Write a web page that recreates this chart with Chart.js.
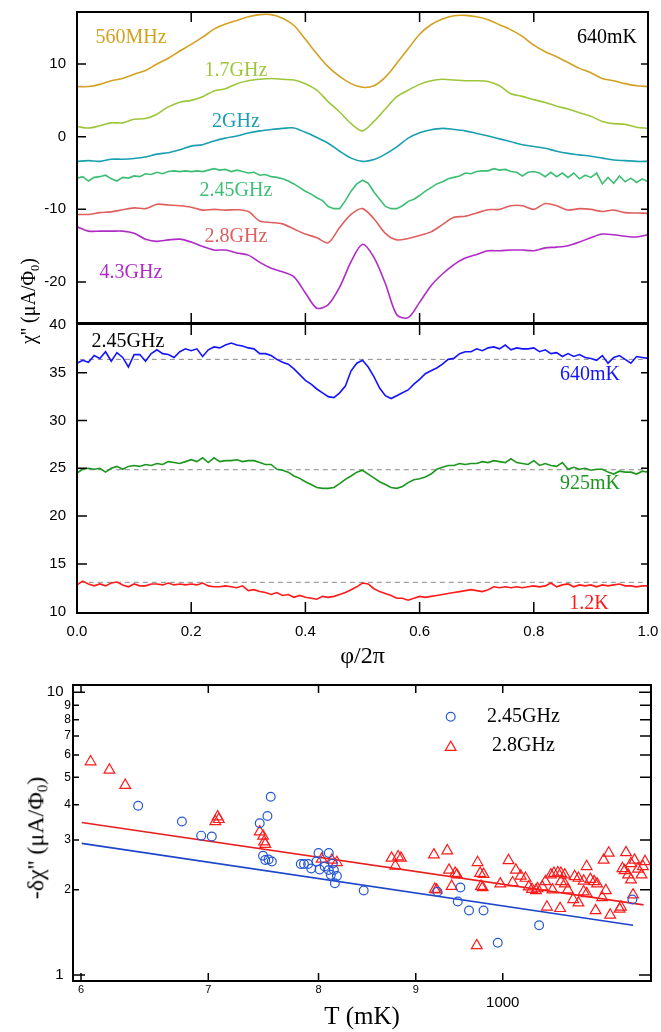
<!DOCTYPE html>
<html><head><meta charset="utf-8">
<script src="https://cdn.jsdelivr.net/npm/chart.js@4/dist/chart.umd.min.js"></script>
<style>
html,body{margin:0;padding:0;background:#fff;}
#wrap{position:relative;width:661px;height:1032px;overflow:hidden;background:#fff;}
#wrap canvas{position:absolute;left:0;top:0;width:661px;height:1032px;}
.note{position:absolute;font-family:"Liberation Serif","Times New Roman",serif;white-space:nowrap;transform:translate(-50%,-50%);line-height:1;}
.ytitle{position:absolute;font-family:"Liberation Serif","Times New Roman",serif;white-space:nowrap;transform:translate(-50%,-50%) rotate(-90deg);line-height:1;color:#000;}
.ytitle .s{font-size:0.62em;vertical-align:-0.3em;}
</style></head>
<body>
<div id="wrap">
<canvas id="cTop" width="661" height="1032"></canvas>
<canvas id="cMid" width="661" height="1032"></canvas>
<canvas id="cBot" width="661" height="1032"></canvas>
</div>
<script>
// ---------------- DATA ----------------
const phi51 = [0,0.02,0.04,0.06,0.08,0.1,0.12,0.14,0.16,0.18,0.2,0.22,0.24,0.26,0.28,0.3,0.32,0.34,0.36,0.38,0.4,0.42,0.44,0.46,0.48,0.5,0.52,0.54,0.56,0.58,0.6,0.62,0.64,0.66,0.68,0.7,0.72,0.74,0.76,0.78,0.8,0.82,0.84,0.86,0.88,0.9,0.92,0.94,0.96,0.98,1];
const phi101 = [0,0.01,0.02,0.03,0.04,0.05,0.06,0.07,0.08,0.09,0.1,0.11,0.12,0.13,0.14,0.15,0.16,0.17,0.18,0.19,0.2,0.21,0.22,0.23,0.24,0.25,0.26,0.27,0.28,0.29,0.3,0.31,0.32,0.33,0.34,0.35,0.36,0.37,0.38,0.39,0.4,0.41,0.42,0.43,0.44,0.45,0.46,0.47,0.48,0.49,0.5,0.51,0.52,0.53,0.54,0.55,0.56,0.57,0.58,0.59,0.6,0.61,0.62,0.63,0.64,0.65,0.66,0.67,0.68,0.69,0.7,0.71,0.72,0.73,0.74,0.75,0.76,0.77,0.78,0.79,0.8,0.81,0.82,0.83,0.84,0.85,0.86,0.87,0.88,0.89,0.9,0.91,0.92,0.93,0.94,0.95,0.96,0.97,0.98,0.99,1];

// top panel (640 mK), chi'' vs phi/2pi, various frequencies
const f560 = [6.9,6.9,7.2,7.7,8.0,8.6,9.1,10.0,10.8,11.8,12.7,13.7,14.8,15.5,16.0,16.5,16.8,16.8,16.3,15.3,13.4,11.4,9.6,8.3,7.3,6.8,7.0,8.2,10.1,12.1,14.1,15.4,16.2,16.65,16.7,16.5,16.1,15.4,14.7,13.8,12.6,11.7,11.0,10.2,9.4,8.8,8.0,7.7,7.3,7.0,6.9];
const f17 = [1.4,1.2,1.5,1.9,1.9,2.4,2.5,3.1,4.1,4.75,5.0,5.5,6.3,6.6,7.3,7.7,7.9,8.0,7.9,7.8,7.3,6.4,4.8,3.4,1.8,0.8,2.1,3.8,5.5,6.4,7.2,7.7,7.9,7.8,7.7,7.7,7.6,7.0,5.9,5.55,5.1,4.7,4.2,3.8,3.3,2.8,2.1,1.8,1.7,1.3,1.15];
const f2 = [-3.4,-3.3,-3.4,-3.1,-3.1,-3.0,-2.8,-2.4,-2.2,-1.8,-1.3,-1.1,-0.6,-0.2,0.1,0.5,0.8,1.0,1.15,1.2,0.6,-0.1,-0.9,-2.0,-2.95,-3.4,-3.15,-2.4,-1.4,-0.2,0.55,0.95,1.15,1.0,0.8,0.45,0.1,-0.3,-0.7,-1.1,-1.35,-1.6,-2.0,-2.3,-2.5,-2.7,-2.95,-3.2,-3.3,-3.4,-3.4];
const f245 = [-5.7,-5.5,-6.1,-5.6,-5.5,-5.3,-5.8,-6.1,-5.6,-5.7,
  -5.4,-5.5,-5.1,-5.2,-4.9,-5.1,-4.8,-4.7,-4.8,-4.7,
  -4.8,-4.7,-4.8,-4.6,-4.4,-4.6,-4.5,-4.8,-4.6,-4.8,
  -5.0,-4.9,-5.3,-5.2,-5.5,-5.6,-5.8,-6.1,-6.5,-7.0,
  -7.5,-7.9,-8.4,-8.8,-9.6,-9.9,-9.9,-8.8,-7.5,-6.5,
  -6.0,-6.4,-7.6,-8.6,-9.6,-9.9,-9.9,-9.5,-8.9,-8.6,
  -8.1,-7.5,-7.0,-6.5,-6.2,-5.8,-5.6,-5.4,-5.0,-5.1,
  -4.8,-4.7,-4.7,-4.4,-4.6,-4.5,-4.8,-4.9,-5.4,-4.9,
  -4.8,-5.0,-5.5,-4.9,-5.5,-5.0,-5.6,-5.0,-5.8,-5.3,
  -5.6,-5.0,-6.5,-5.6,-6.4,-5.4,-6.2,-5.7,-6.3,-5.8,
  -6.2];
const f28 = [-10.7,-10.7,-10.45,-10.35,-10.05,-9.8,-9.9,-9.3,-9.4,-9.5,-9.7,-10.1,-10.0,-10.1,-10.05,-10.3,-11.6,-11.8,-12.0,-12.7,-13.4,-13.9,-14.6,-12.5,-10.7,-9.9,-11.3,-13.3,-14.2,-14.0,-13.6,-13.1,-12.1,-11.1,-10.95,-10.5,-10.05,-10.0,-9.5,-9.5,-10.0,-9.2,-9.5,-10.1,-9.9,-10.0,-10.3,-10.1,-10.45,-10.5,-10.55];
const f43 = [-12.4,-13.0,-13.0,-13.0,-13.0,-13.3,-14.1,-14.4,-14.2,-14.1,-14.5,-15.1,-15.6,-15.6,-16.0,-16.3,-17.3,-18.1,-18.6,-19.3,-21.5,-23.6,-23.1,-20.7,-17.2,-14.8,-16.6,-20.2,-24.5,-24.9,-22.8,-20.5,-18.9,-17.6,-16.7,-16.2,-15.7,-15.7,-15.6,-15.6,-15.7,-15.3,-15.2,-15.0,-14.5,-13.9,-13.4,-13.5,-13.7,-13.8,-13.5];

// middle panel (2.45 GHz), three temperatures
const m640 = [36.0,36.3,36.1,36.8,36.5,37.2,36.2,37.1,36.6,35.6,
  36.9,36.9,36.2,37.0,37.4,37.0,36.9,36.6,37.2,37.5,
  37.3,37.5,36.7,37.4,37.7,37.6,37.9,38.1,37.9,37.8,
  37.6,37.5,37.0,37.0,36.8,36.4,36.1,35.9,35.4,34.8,
  34.2,33.8,33.3,32.9,32.5,32.4,32.9,33.6,35.2,36.0,
  36.3,35.6,34.6,33.4,32.6,32.3,32.6,32.9,33.2,33.8,
  34.3,34.9,35.2,35.5,35.9,36.4,36.5,37.0,37.2,37.2,
  37.5,37.3,37.6,37.7,37.5,37.9,37.4,37.6,37.5,37.5,
  37.6,37.2,37.4,37.0,37.1,36.7,37.0,36.7,36.9,36.6,
  36.5,36.3,36.8,36.0,36.6,36.8,36.4,36.0,36.7,36.6,
  36.5];
const m925 = [24.5,24.9,25.0,24.9,25.0,24.6,25.0,25.2,24.9,25.2,
  25.3,25.2,25.4,25.3,25.5,25.4,25.7,25.6,25.5,25.7,
  25.9,25.7,26.1,25.6,26.1,25.7,25.8,25.8,25.9,25.7,
  25.8,25.8,25.6,25.4,25.4,24.9,24.8,24.6,24.2,23.95,
  23.6,23.3,23.0,22.9,22.9,23.0,23.4,23.85,24.2,24.6,
  24.8,24.4,24.0,23.6,23.3,23.0,22.9,23.1,23.5,23.8,
  23.9,24.1,24.4,24.9,25.1,25.3,25.3,25.5,25.4,25.5,
  25.5,25.7,25.6,25.8,25.7,25.6,26.0,25.6,25.5,25.4,
  25.8,25.3,25.5,25.3,25.2,25.6,24.9,25.1,24.9,25.0,
  24.8,24.9,24.9,24.6,24.4,24.7,24.6,24.6,24.4,24.7,
  24.6];
const m1200 = [12.8,13.2,12.9,12.7,12.9,12.7,13.0,13.1,12.8,12.6,
  12.9,12.7,12.7,12.9,12.9,12.8,13.0,12.8,12.9,12.8,
  12.9,12.8,13.0,12.7,12.6,12.6,12.7,12.6,12.5,12.7,
  12.2,12.3,12.1,12.0,11.8,12.0,11.7,11.8,11.5,11.7,
  11.5,11.4,11.3,11.6,11.5,11.6,11.8,12.0,12.3,12.6,
  13.0,12.9,12.4,12.1,11.9,11.7,11.4,11.4,11.2,11.4,
  11.6,11.5,11.6,11.7,11.8,11.9,12.0,12.1,12.2,12.3,
  12.2,12.1,12.3,12.6,12.5,12.6,12.5,12.6,12.5,12.6,
  12.7,12.6,12.7,13.0,12.6,12.8,12.9,12.6,12.8,12.7,
  12.8,12.6,12.8,12.7,12.8,12.9,12.7,12.7,12.6,12.7,
  12.7];
const baseLevels = [36.4, 24.85, 13.07];

// bottom panel: -delta chi'' vs T (mK), [T, value]
const pts245 = [[643,3.97],[678,3.49],[694,3.11],[703,3.09],[745,3.44],[752,3.65],[755,4.27],[748,2.64],[750,2.55],[753,2.56],[756,2.52],[783,2.47],[786,2.47],[790,2.47],[793,2.38],[800,2.70],[798,2.52],[801,2.36],[806,2.42],[810,2.70],[810,2.35],[812,2.26],[814,2.48],[815,2.35],[818,2.24],[816,2.11],[845,1.99],[924,1.97],[950,2.04],[947,1.82],[960,1.69],[977,1.69],[994,1.30],[1045,1.50],[1170,1.85]];
const pts28 = [[607,5.68],[621,5.31],[633,4.69],[706,3.49],[708,3.63],[709,3.55],[745,3.21],[748,3.10],[749,2.96],[750,2.90],[803,2.57],[813,2.55],[818,2.50],[874,2.59],[881,2.62],[884,2.59],[878,2.43],[920,2.66],[935,2.75],[921,2.01],[923,2.00],[937,2.35],[944,2.29],[946,2.26],[940,2.06],[970,2.50],[973,2.29],[977,2.27],[974,2.06],[976,2.04],[969,1.27],[1007,2.54],[997,2.10],[1016,2.35],[1022,2.24],[1028,2.20],[1012,2.12],[1032,2.05],[1036,2.01],[1043,2.02],[1049,2.05],[1041,1.99],[1055,1.74],[1053,2.14],[1060,2.26],[1064,2.29],[1069,2.30],[1073,2.29],[1078,2.26],[1072,1.72],[1062,2.00],[1073,2.14],[1078,2.10],[1082,2.00],[1091,2.23],[1096,2.20],[1089,1.85],[1096,1.80],[1107,2.42],[1103,2.15],[1112,2.18],[1117,2.14],[1107,1.94],[1103,1.97],[1121,2.10],[1128,1.88],[1119,1.69],[1133,1.99],[1130,2.55],[1137,2.70],[1139,1.63],[1152,1.71],[1154,1.74],[1161,2.71],[1156,2.38],[1159,2.34],[1168,2.48],[1173,2.55],[1164,2.26],[1168,2.17],[1178,2.37],[1183,2.26],[1188,2.52],[1185,2.42],[1171,1.92]];
const fitT245 = [600.5, 1171], fitV245 = [2.92, 1.50];
const fitT28 = [600.5, 1186], fitV28 = [3.46, 1.77];

// tick values
const phiTicks = [0, 0.2, 0.4, 0.6, 0.8, 1.0];
const topYTicks = [-20, -10, 0, 10];
const midYTicks = [10, 15, 20, 25, 30, 35, 40];
const tTicks = [600, 700, 800, 900, 1000];
const dTicks = [1, 2, 3, 4, 5, 6, 7, 8, 9, 10];
const majorT = [1000], majorD = [1, 10];

// ---------------- STYLE / LAYOUT ----------------
const SANS = "'Liberation Sans', Arial, Helvetica, sans-serif";
const SERIF = "'Liberation Serif', 'Times New Roman', serif";
Chart.defaults.font.family = SANS;
Chart.defaults.color = '#000';

const topColors = {f560:'#D4A020', f17:'#9DC63B', f2:'#189FB0', f245:'#3DBE74', f28:'#DF5F5F', f43:'#B02AC8'};
const midColors = {m640:'#1414FF', m925:'#1C961E', m1200:'#FF1A1A'};

const notes = [
  {t:'560MHz', c:topColors.f560, x:131, y:36},
  {t:'1.7GHz', c:topColors.f17, x:236, y:69},
  {t:'2GHz', c:topColors.f2, x:236, y:120},
  {t:'2.45GHz', c:topColors.f245, x:236, y:189},
  {t:'2.8GHz', c:topColors.f28, x:236, y:235},
  {t:'4.3GHz', c:topColors.f43, x:131, y:271},
  {t:'640mK', c:'#000', x:607, y:36},
  {t:'2.45GHz', c:'#000', x:128, y:340},
  {t:'640mK', c:midColors.m640, x:590, y:373},
  {t:'925mK', c:midColors.m925, x:590, y:482},
  {t:'1.2K', c:midColors.m1200, x:589, y:602}
];
const wrap = document.getElementById('wrap');
notes.forEach(n => {
  const d = document.createElement('div');
  d.className = 'note';
  d.textContent = n.t;
  d.style.left = n.x + 'px'; d.style.top = n.y + 'px';
  d.style.color = n.c; d.style.fontSize = '20px';
  wrap.appendChild(d);
});
function yTitle(html, x, y, size) {
  const d = document.createElement('div');
  d.className = 'ytitle';
  d.innerHTML = html;
  d.style.left = x + 'px'; d.style.top = y + 'px'; d.style.fontSize = size + 'px';
  wrap.appendChild(d);
}
yTitle("&chi;'' (&mu;A/&Phi;<span class='s'>0</span>)", 30, 301, 20);
yTitle("-&delta;&chi;'' (&mu;A/&Phi;<span class='s'>0</span>)", 37, 838, 24);

function zeroPad(s) { s.paddingTop = 0; s.paddingBottom = 0; s.paddingLeft = 0; s.paddingRight = 0; }
const fixW = w => s => { s.width = w; zeroPad(s); };
const fixH = h => s => { s.height = h; zeroPad(s); };
const setTicks = arr => s => { s.ticks = arr.map(v => ({value: v})); };

function framePlugin(cfg) {
  return {
    id: 'frameTicks',
    afterDatasetsDraw(chart) {
      const {ctx, chartArea: a} = chart;
      const xs = chart.scales.x, ys = chart.scales.y;
      ctx.save();
      ctx.strokeStyle = '#000';
      ctx.lineWidth = 1.5;
      ctx.beginPath();
      xs.ticks.forEach(t => {
        const p = xs.getPixelForValue(t.value);
        if (p < a.left + 3 || p > a.right - 3) return;
        ctx.moveTo(p, a.bottom); ctx.lineTo(p, a.bottom - cfg.xLen);
        ctx.moveTo(p, a.top); ctx.lineTo(p, a.top + cfg.xLen);
      });
      ys.ticks.forEach(t => {
        const p = ys.getPixelForValue(t.value);
        if (p < a.top + 3 || p > a.bottom - 3) return;
        const maj = cfg.major && cfg.major.includes(t.value);
        const l = maj ? cfg.majLen : cfg.yLenL, r = maj ? cfg.majLen : cfg.yLenR;
        ctx.moveTo(a.left, p); ctx.lineTo(a.left + l, p);
        ctx.moveTo(a.right, p); ctx.lineTo(a.right - r, p);
      });
      ctx.stroke();
      ctx.lineWidth = 2;
      ctx.strokeRect(a.left, a.top, a.right - a.left, a.bottom - a.top);
      ctx.restore();
    }
  };
}

const common = {
  responsive: false, maintainAspectRatio: false, animation: false, devicePixelRatio: 1,
  events: [],
  elements: {point: {radius: 0}},
};
const noPlug = {legend: {display: false}, tooltip: {enabled: false}, title: {display: false}};
const toXY = (xs, ys) => xs.map((x, i) => ({x: x, y: ys[i]}));

// ---------------- TOP ----------------
const topSeries = [
  {d: f560, c: topColors.f560, x: phi51},
  {d: f17, c: topColors.f17, x: phi51},
  {d: f2, c: topColors.f2, x: phi51},
  {d: f245, c: topColors.f245, x: phi101},
  {d: f28, c: topColors.f28, x: phi51},
  {d: f43, c: topColors.f43, x: phi51}
];
new Chart(document.getElementById('cTop'), {
  type: 'line',
  data: {datasets: topSeries.map(s => ({data: toXY(s.x, s.d), borderColor: s.c, borderWidth: 1.6, tension: s.x === phi51 ? 0.3 : 0, fill: false}))},
  options: Object.assign({}, common, {
    layout: {padding: {left: 0, right: 13, top: 12, bottom: 709}},
    plugins: noPlug,
    scales: {
      x: {type: 'linear', min: 0, max: 1, afterBuildTicks: setTicks(phiTicks),
          ticks: {display: false}, grid: {display: false}, border: {display: false}, afterFit: fixH(0)},
      y: {type: 'linear', min: -25.64, max: 17.16, afterBuildTicks: setTicks(topYTicks),
          ticks: {padding: 11, font: {size: 15}, color: '#000'},
          grid: {display: false, drawTicks: false}, border: {display: false}, afterFit: fixW(77)}
    }
  }),
  plugins: [framePlugin({xLen: 10, yLenL: 9, yLenR: 7})]
});

// ---------------- MIDDLE ----------------
const midSeries = [
  {d: m640, c: midColors.m640},
  {d: m925, c: midColors.m925},
  {d: m1200, c: midColors.m1200}
];
const midDatasets = midSeries.map(s => ({data: toXY(phi101, s.d), borderColor: s.c, borderWidth: 1.6, tension: 0, fill: false, order: 1}))
  .concat(baseLevels.map(v => ({data: [{x: phi101[0] + 0.005, y: v}, {x: phi101[phi101.length - 1], y: v}], borderColor: '#8a8a8a', borderWidth: 1, borderDash: [5, 4], fill: false, order: 10})));
new Chart(document.getElementById('cMid'), {
  type: 'line',
  data: {datasets: midDatasets},
  options: Object.assign({}, common, {
    layout: {padding: {left: 0, right: 13, top: 324, bottom: 361}},
    plugins: noPlug,
    scales: {
      x: {type: 'linear', min: 0, max: 1, afterBuildTicks: setTicks(phiTicks),
          ticks: {padding: 10, font: {size: 15}, color: '#000', maxRotation: 0, autoSkip: false, callback: v => Number(v).toFixed(1)},
          title: {display: true, text: 'φ/2π', font: {family: SERIF, size: 24}, color: '#000', padding: 0},
          grid: {display: false, drawTicks: false}, border: {display: false}, afterFit: fixH(58)},
      y: {type: 'linear', min: 9.86, max: 40.1, afterBuildTicks: setTicks(midYTicks),
          ticks: {padding: 11, font: {size: 15}, color: '#000'},
          grid: {display: false, drawTicks: false}, border: {display: false}, afterFit: fixW(77)}
    }
  }),
  plugins: [framePlugin({xLen: 11, yLenL: 10, yLenR: 7})]
});

// ---------------- BOTTOM ----------------
const legendItems = [
  {shape: 'circle', color: '#2457D6', text: '2.45GHz', mx: 450.7, my: 716.7, tx: 523.5, ty: 717},
  {shape: 'triangle', color: '#FF1A1A', text: '2.8GHz', mx: 450.7, my: 747.3, tx: 523.5, ty: 746}
];
const legendPlugin = {
  id: 'insideLegend',
  afterDatasetsDraw(chart) {
    const ctx = chart.ctx;
    ctx.save();
    legendItems.forEach(it => {
      ctx.strokeStyle = it.color; ctx.lineWidth = 1.2;
      ctx.beginPath();
      if (it.shape === 'circle') {
        ctx.arc(it.mx, it.my, 4.4, 0, Math.PI * 2);
      } else {
        const r = 6.2;
        ctx.moveTo(it.mx, it.my - r);
        ctx.lineTo(it.mx + r * 0.866, it.my + r / 2);
        ctx.lineTo(it.mx - r * 0.866, it.my + r / 2);
        ctx.closePath();
      }
      ctx.stroke();
      ctx.fillStyle = '#000';
      ctx.font = '20px ' + SERIF;
      ctx.textAlign = 'center'; ctx.textBaseline = 'middle';
      ctx.fillText(it.text, it.tx, it.ty);
    });
    ctx.restore();
  }
};
new Chart(document.getElementById('cBot'), {
  type: 'scatter',
  data: {datasets: [
    {data: pts245.map(p => ({x: p[0], y: p[1]})), pointStyle: 'circle', pointRadius: 4.4, borderColor: '#2457D6', backgroundColor: 'rgba(0,0,0,0)', borderWidth: 1.2, order: 1},
    {data: pts28.map(p => ({x: p[0], y: p[1]})), pointStyle: 'triangle', pointRadius: 6.2, borderColor: '#FF1A1A', backgroundColor: 'rgba(0,0,0,0)', borderWidth: 1.2, order: 1},
    {type: 'line', data: toXY(fitT28, fitV28), borderColor: '#E62020', borderWidth: 1.6, pointRadius: 0, showLine: true, fill: false, order: 5},
    {type: 'line', data: toXY(fitT245, fitV245), borderColor: '#1D45C9', borderWidth: 1.6, pointRadius: 0, showLine: true, fill: false, order: 5}
  ]},
  options: Object.assign({}, common, {
    layout: {padding: {left: 0, right: 10, top: 685, bottom: 0}},
    plugins: noPlug,
    scales: {
      x: {type: 'logarithmic', min: 594.2, max: 1196.7, afterBuildTicks: setTicks(tTicks),
          ticks: {padding: 2, color: '#000', maxRotation: 0, autoSkip: false,
                  font: c => (c.tick && majorT.includes(c.tick.value)) ? {size: 15, lineHeight: 0.88} : {size: 11},
                  callback: v => majorT.includes(v) ? ['', String(v)] : String(v / 100)},
          title: {display: true, text: 'T (mK)', font: {family: SERIF, size: 25}, color: '#000', padding: 0},
          grid: {display: false, drawTicks: false}, border: {display: false}, afterFit: fixH(51)},
      y: {type: 'logarithmic', min: 0.952, max: 10.61, afterBuildTicks: setTicks(dTicks),
          ticks: {padding: 2, color: '#000', autoSkip: false,
                  font: c => (c.tick && majorD.includes(c.tick.value)) ? {size: 15} : {size: 12},
                  callback: v => majorD.includes(v) ? String(v) + '\u2002' : String(v)},
          grid: {display: false, drawTicks: false}, border: {display: false}, afterFit: fixW(73)}
    }
  }),
  plugins: [framePlugin({xLen: 8, yLenL: 6, yLenR: 11, major: majorD, majLen: 12}), legendPlugin]
});
</script>
</body></html>
